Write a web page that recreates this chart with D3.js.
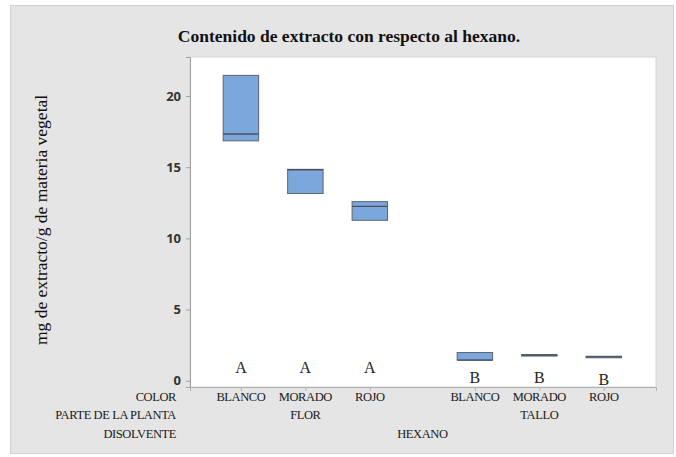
<!DOCTYPE html>
<html>
<head>
<meta charset="utf-8">
<script src="https://cdn.jsdelivr.net/npm/d3@7"></script>
<style>
  html, body { margin: 0; padding: 0; background: #ffffff; }
  svg { display: block; }
</style>
</head>
<body>
<svg id="chart" width="676" height="457"></svg>
<script>
// Extract content (mg extract / g plant material), hexane solvent
const colores = ["BLANCO", "MORADO", "ROJO", "BLANCO", "MORADO", "ROJO"];
const partes = ["FLOR", "FLOR", "FLOR", "TALLO", "TALLO", "TALLO"];
const grupos = ["FLOR", "TALLO"];
const q1 = [16.85, 13.15, 11.27, 1.45, 1.76, 1.63];
const mediana = [17.33, 14.82, 12.25, 1.45, 1.80, 1.68];
const q3 = [21.45, 14.85, 12.58, 1.98, 1.84, 1.72];
const letras = ["A", "A", "A", "B", "B", "B"];
const yTicks = [0, 5, 10, 15, 20];

const svg = d3.select("#chart");
const W = 676, H = 457;
const plot = { left: 190, right: 656, top: 57, bottom: 387 };
const serif = "'Liberation Serif', 'Times New Roman', serif";
const sans = "'Open Sans', 'DejaVu Sans', sans-serif";

// outer panel
svg.append("rect").attr("width", W).attr("height", H).attr("fill", "#ffffff");
svg.append("rect")
  .attr("x", 10.5).attr("y", 5.5).attr("width", 663).attr("height", 448)
  .attr("fill", "#e5e5e5").attr("stroke", "#d2d2d2").attr("stroke-width", 1);

// plot area
svg.append("rect")
  .attr("x", plot.left).attr("y", plot.top)
  .attr("width", plot.right - plot.left).attr("height", plot.bottom - plot.top)
  .attr("fill", "#ffffff").attr("stroke", "#d6d6d6").attr("stroke-width", 1);

// scales: positions along x with a gap between the two plant parts
const gap = 0.63;
const pos = colores.map((c, i) => i + grupos.indexOf(partes[i]) * gap);
const x = d3.scaleLinear().domain([-0.79, 6.44]).range([plot.left, plot.right]);
const y = d3.scaleLinear().domain([-0.44, 22.74]).range([plot.bottom, plot.top]);
const boxW = 0.55;

// y axis
const yAxis = d3.axisLeft(y).tickValues(yTicks).tickSize(4).tickPadding(5).tickFormat(d3.format("d"));
const gy = svg.append("g").attr("transform", `translate(${plot.left},0)`).call(yAxis);
gy.select(".domain").attr("stroke", "#a0a0a0");
gy.selectAll(".tick line").attr("stroke", "#a0a0a0");
gy.selectAll(".tick text")
  .attr("font-family", sans).attr("font-size", 13).attr("font-weight", "bold")
  .attr("fill", "#333333");

// x axis (ticks at each category)
const xAxis = d3.axisBottom(x).tickValues(pos).tickSize(4).tickFormat("");
const gx = svg.append("g").attr("transform", `translate(0,${plot.bottom})`).call(xAxis);
gx.select(".domain").attr("stroke", "#b0b0b0");
gx.selectAll(".tick line").attr("stroke", "#b0b0b0");

// boxes
const boxes = svg.append("g");
colores.forEach((c, i) => {
  const x0 = x(pos[i] - boxW / 2), x1 = x(pos[i] + boxW / 2);
  boxes.append("rect")
    .attr("x", x0).attr("y", y(q3[i]))
    .attr("width", x1 - x0).attr("height", Math.max(1.5, y(q1[i]) - y(q3[i])))
    .attr("fill", "#7ba7dc").attr("stroke", "#5a6472").attr("stroke-width", 1);
  boxes.append("line")
    .attr("x1", x0).attr("x2", x1)
    .attr("y1", y(mediana[i])).attr("y2", y(mediana[i]))
    .attr("stroke", "#4a5260").attr("stroke-width", 1.3);
});

// significance letters
svg.append("g").selectAll("text").data(letras).join("text")
  .attr("x", (d, i) => x(pos[i]))
  .attr("y", (d, i) => partes[i] === "FLOR" ? plot.bottom - 14 : plot.bottom - 4 + (i === 5 ? 2 : 0))
  .attr("text-anchor", "middle")
  .attr("font-family", serif).attr("font-size", 16).attr("fill", "#222")
  .text(d => d);

// category rows
const rowY = [401, 419, 438];
const rows = svg.append("g")
  .attr("font-family", serif).attr("font-size", 12.5)
  .attr("fill", "#1a1a1a").attr("letter-spacing", -0.4);

rows.append("text").attr("x", 176).attr("y", rowY[0]).attr("text-anchor", "end").text("COLOR");
rows.append("text").attr("x", 176).attr("y", rowY[1]).attr("text-anchor", "end").text("PARTE DE LA PLANTA");
rows.append("text").attr("x", 176).attr("y", rowY[2]).attr("text-anchor", "end").text("DISOLVENTE");

colores.forEach((c, i) => {
  rows.append("text").attr("x", x(pos[i])).attr("y", rowY[0]).attr("text-anchor", "middle").text(c);
});
grupos.forEach(g => {
  const ps = pos.filter((p, i) => partes[i] === g);
  rows.append("text").attr("x", x(d3.mean(ps))).attr("y", rowY[1]).attr("text-anchor", "middle").text(g);
});
rows.append("text").attr("x", x(d3.mean(pos))).attr("y", rowY[2]).attr("text-anchor", "middle").text("HEXANO");

// title
svg.append("text")
  .attr("x", 349).attr("y", 42).attr("text-anchor", "middle")
  .attr("font-family", serif).attr("font-size", 17.5).attr("font-weight", "bold")
  .attr("fill", "#111")
  .text("Contenido de extracto con respecto al hexano.");

// y axis title
svg.append("text")
  .attr("transform", `translate(47,${(plot.top + plot.bottom) / 2 - 2}) rotate(-90)`)
  .attr("text-anchor", "middle")
  .attr("font-family", serif).attr("font-size", 17.5).attr("fill", "#111")
  .text("mg de extracto/g de materia vegetal");
</script>
</body>
</html>
